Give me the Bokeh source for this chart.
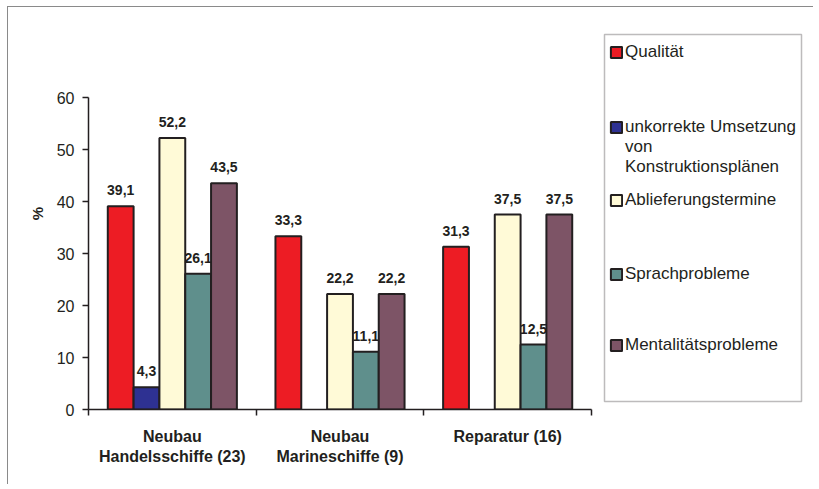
from bokeh.plotting import figure
from bokeh.models import (Range1d, LinearAxis, FixedTicker, Legend, LegendItem, ColumnDataSource,
                          BoxAnnotation)
from bokeh.transform import dodge
from bokeh.core.properties import value
from bokeh.embed import file_html
from bokeh.resources import INLINE

categories = ["Neubau\nHandelsschiffe (23)", "Neubau\nMarineschiffe (9)", "Reparatur (16)"]
series_names = ["Qualität", "unkorrekte Umsetzung", "Ablieferungstermine",
                "Sprachprobleme", "Mentalitätsprobleme"]
series_name_cont = "von\nKonstruktionsplänen"   # continuation of the 2nd legend label
qualitaet = [39.1, 33.3, 31.3]
umsetzung = [4.3, None, None]
ablieferung = [52.2, 22.2, 37.5]
sprache = [26.1, 11.1, 12.5]
mentalitaet = [43.5, 22.2, 37.5]
series_values = [qualitaet, umsetzung, ablieferung, sprache, mentalitaet]
colors = ["#ED1C24", "#2E3192", "#FFFAD7", "#5F8F8C", "#7D5466"]
y_ticks = [0, 10, 20, 30, 40, 50, 60]

FONT = "Liberation Sans"
INK = "#231F20"

n = len(categories)
centers = [i + 0.5 for i in range(n)]
edges = [float(i) for i in range(n + 1)]

# layout (pixels, canvas coordinates)
W, H = 806, 478
F_LEFT, F_TOP, F_RIGHT, F_BOTTOM = 80, 10, 800, 402
PX_PER_CAT = 167.67
PX_PER_PCT = 5.2
x_end = (F_RIGHT - F_LEFT) / PX_PER_CAT
y_end = (F_BOTTOM - F_TOP) / PX_PER_PCT

def px_x(px):
    return (px - F_LEFT) / PX_PER_CAT

def px_y(px):
    return (F_BOTTOM - px) / PX_PER_PCT

p = figure(width=W, height=H, x_range=Range1d(0, x_end), y_range=Range1d(0, y_end),
           x_axis_location=None, output_backend="svg", toolbar_location=None,
           min_border_left=F_LEFT, min_border_top=F_TOP, min_border_right=W - F_RIGHT,
           min_border_bottom=H - F_BOTTOM)
p.outline_line_color = None
p.grid.grid_line_color = None
p.background_fill_color = "white"
p.border_fill_color = "white"
p.styles = {"margin-left": "7px", "margin-top": "6px",
            "border-top": "1px solid #8a8a8a", "border-left": "1px solid #8a8a8a"}

bar_w = 0.154
renderers = []
for i, (vals, col) in enumerate(zip(series_values, colors)):
    xs = [c for c, v in zip(centers, vals) if v is not None]
    vs = [v for v in vals if v is not None]
    labels = [f"{v:.1f}".replace(".", ",") for v in vs]
    src = ColumnDataSource(dict(x=xs, val=vs, label=labels))
    off = (i - 2) * bar_w
    r = p.vbar(x=dodge("x", off), top="val", width=bar_w, source=src,
               fill_color=col, line_color=INK, line_width=2)
    p.text(x=dodge("x", off), y="val", text="label", source=src,
           text_align="center", text_baseline="middle", y_offset=-16,
           text_font=value(FONT), text_font_style="bold", text_font_size="14px",
           text_color=INK)
    renderers.append(r)

# y axis
p.yaxis.ticker = FixedTicker(ticks=y_ticks)
p.yaxis.bounds = (y_ticks[0], y_ticks[-1])
p.yaxis.axis_label = "%"
p.yaxis.axis_label_text_font = FONT
p.yaxis.axis_label_text_font_style = "bold"
p.yaxis.axis_label_text_font_size = "15px"
p.yaxis.axis_label_text_color = INK
p.yaxis.axis_label_standoff = 8
p.yaxis.major_label_text_font = FONT
p.yaxis.major_label_text_font_size = "16px"
p.yaxis.major_label_text_color = INK
p.yaxis.major_label_standoff = 8
p.yaxis.major_tick_in = 0
p.yaxis.major_tick_out = 6
p.yaxis.minor_tick_line_color = None
p.yaxis.axis_line_color = INK
p.yaxis.axis_line_width = 1.5
p.yaxis.major_tick_line_color = INK
p.yaxis.major_tick_line_width = 1.5

# x axis: labels at category centres, minor ticks at category edges
x_axis = LinearAxis(ticker=FixedTicker(ticks=centers, minor_ticks=edges),
                    bounds=(edges[0], edges[-1]),
                    major_label_overrides={c: lab for c, lab in zip(centers, categories)},
                    axis_line_color=INK, axis_line_width=1.5,
                    major_tick_line_color=None, major_tick_in=0, major_tick_out=6,
                    minor_tick_line_color=INK, minor_tick_line_width=1.5,
                    minor_tick_in=0, minor_tick_out=6,
                    major_label_text_font=FONT, major_label_text_font_style="bold",
                    major_label_text_font_size="16px", major_label_text_color=INK,
                    major_label_standoff=12)
p.add_layout(x_axis, "below")

# legend box
LEG_L, LEG_R, LEG_T, LEG_B = 596, 793, 27, 394
p.add_layout(BoxAnnotation(left=px_x(LEG_L), right=px_x(LEG_R), top=px_y(LEG_T), bottom=px_y(LEG_B),
                           fill_color=None, line_color=INK, line_width=1.5))

# legend entries (Excel-style spacing: each entry in its own slot)
LINE_H = 19
slot_centers = [45.7, 120.7, 151.0, 193, 267, 338.3]   # canvas px of each entry's text centre
entries = [(series_names[0], [renderers[0]], 1),
           (series_names[1], [renderers[1]], 1),
           (series_name_cont, [], 2),
           (series_names[2], [renderers[2]], 1),
           (series_names[3], [renderers[3]], 1),
           (series_names[4], [renderers[4]], 1)]
for (label, rs, nlines), yc in zip(entries, slot_centers):
    h = nlines * LINE_H
    leg = Legend(items=[LegendItem(label=label, renderers=rs)],
                 location=(601 - F_LEFT, F_BOTTOM - (yc + h / 2)),
                 border_line_color=None, background_fill_alpha=0,
                 label_text_font=FONT, label_text_font_size="17px", label_text_color=INK,
                 label_text_line_height=1.12, label_height=LINE_H,
                 glyph_width=14, glyph_height=14, label_standoff=2,
                 spacing=0, padding=0, margin=0)
    p.add_layout(leg, "center")

open("out.html", "w").write(file_html(p, INLINE))
